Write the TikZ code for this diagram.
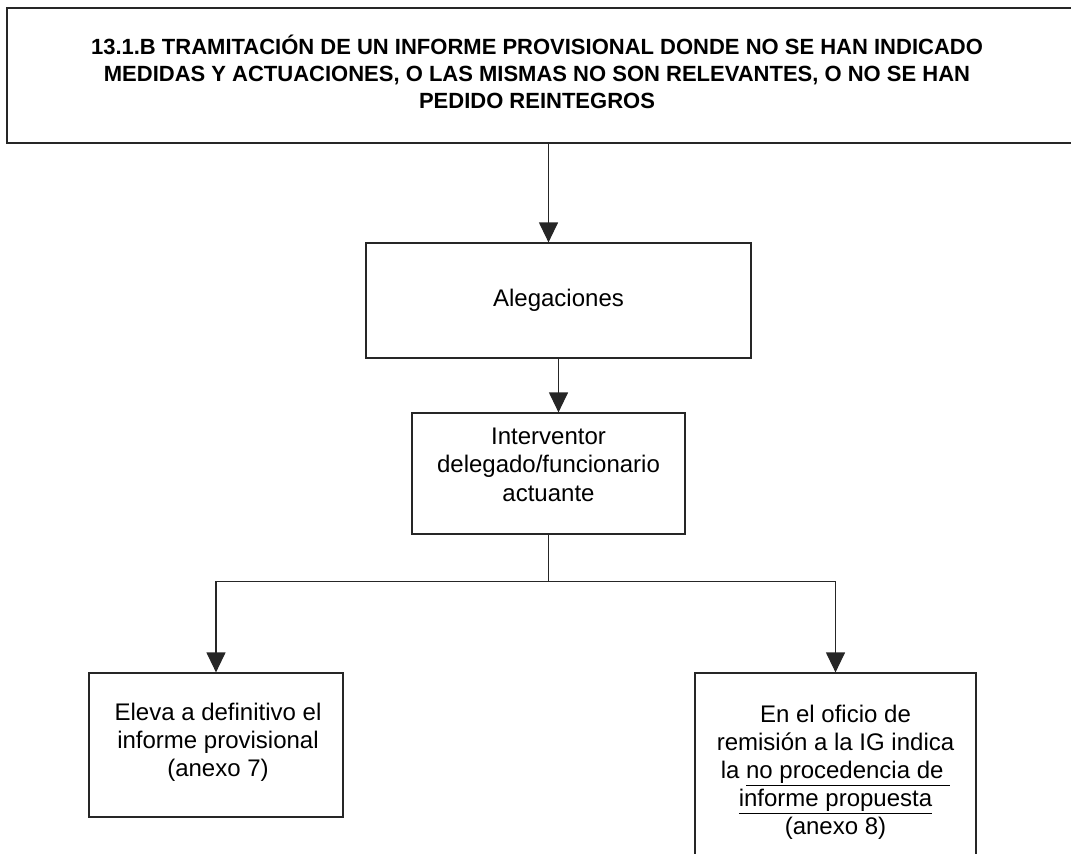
\documentclass[tikz,border=0pt]{standalone}
\usepackage{fontspec}
\setmainfont{Liberation Sans}
\usepackage{tikz}
\usetikzlibrary{arrows.meta,positioning,calc}

\begin{document}
\begin{tikzpicture}[x=1pt, y=-1pt, font=\fontsize{24}{28}\selectfont]
  \tikzset{caja/.style={draw=black!85, line width=1.2pt, rectangle, align=center, inner sep=0pt},
    flecha/.style={draw=black!85, line width=1.2pt, -{Triangle[width=19pt,length=20pt]}},
    linea/.style={draw=black!85, line width=1.2pt},
    texto/.style={align=center, anchor=north, font=\fontsize{24}{28}\selectfont}}
  \useasboundingbox (0,0) rectangle (1071,854);
  \clip (0,0) rectangle (1071,854);
  % cajas
  \node[caja, minimum width=1065pt, minimum height=135pt] (titulo) at (539.5,75.5) {};
  \node[align=center, font=\fontsize{22}{27}\selectfont\bfseries] (titulotxt) at (537,72)
    {13.1.B TRAMITACIÓN DE UN INFORME PROVISIONAL DONDE NO SE HAN INDICADO\\
     MEDIDAS Y ACTUACIONES, O LAS MISMAS NO SON RELEVANTES, O NO SE HAN\\
     PEDIDO REINTEGROS};
  \node[caja, minimum width=385pt, minimum height=115pt] (aleg) at (558.5,300.5) {Alegaciones};
  \node[caja, minimum width=273pt, minimum height=121pt] (interv) at (548.5,473.5) {};
  \node[texto, font=\fontsize{24}{28.5}\selectfont] (intervtxt) at (548.5,424) {Interventor\\ delegado/funcionario\\ actuante};
  \node[caja, minimum width=254pt, minimum height=144pt] (eleva) at (216,745) {};
  \node[texto] (elevatxt) at (218,700) {Eleva a definitivo el\\ informe provisional\\ (anexo 7)};
  \node[caja, minimum width=281pt, minimum height=227pt] (oficio) at (835.5,786.5) {};
  \node[texto] (oficiotxt) at (835.5,702)
    {En el oficio de\\ remisión a la IG indica\\ la \underline{no procedencia de\ }\\ \underline{informe propuesta}\\ (anexo 8)};
  % conectores
  \coordinate (rama) at ($(interv.south)+(0,47)$);
  \draw[flecha] (titulo.south -| interv.north) -- (aleg.north -| interv.north);
  \draw[flecha] (aleg.south) -- (aleg.south |- interv.north);
  \draw[linea] (interv.south) -- (rama);
  \draw[flecha] (rama) -| (eleva.north);
  \draw[flecha] (rama) -| (oficio.north);
\end{tikzpicture}
\end{document}
